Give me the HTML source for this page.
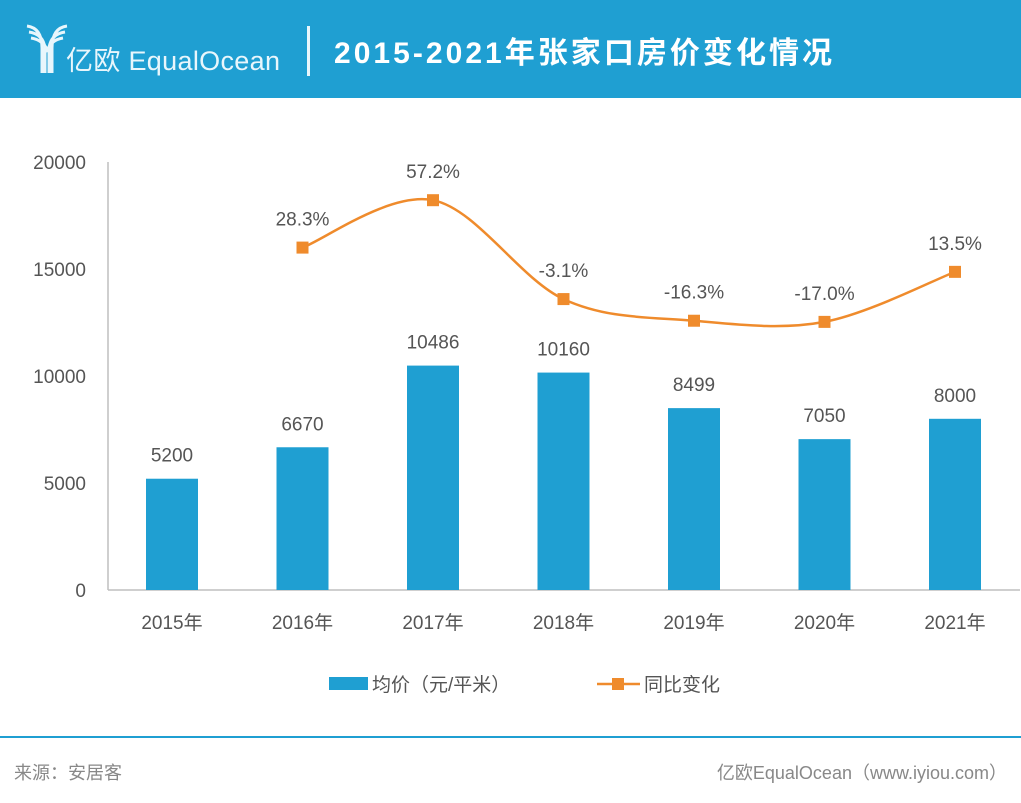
<!DOCTYPE html>
<html><head><meta charset="utf-8"><style>
body{margin:0;width:1021px;height:803px;background:#fff;position:relative;overflow:hidden;font-family:"Liberation Sans","Noto Sans CJK SC",sans-serif}
.hdr{position:absolute;left:0;top:0;width:1021px;height:98px;background:#1f9fd2}
</style></head><body>
<div class="hdr">
<svg width="1021" height="98">
<g fill="none" stroke="#e8f6fc" stroke-width="3">
<path d="M27 26 Q42 28 42 48 L42 73"/><path d="M29 32 Q43 34 45 48 L45 73"/><path d="M31 38 Q44 40 48 52"/>
<path d="M67 26 Q52 28 52 48 L52 73"/><path d="M65 32 Q51 34 49 48 L49 73"/><path d="M63 38 Q50 40 47 52"/>
</g>
<text x="66" y="70" fill="#e8f6fc" font-size="27" textLength="214" font-family="Liberation Sans,Noto Sans CJK SC,sans-serif">亿欧 EqualOcean</text>
<rect x="307" y="26" width="3" height="50" fill="#e8f6fc"/>
<text x="334" y="63" fill="#fff" font-size="30" font-weight="bold" textLength="498" font-family="Liberation Sans,Noto Sans CJK SC,sans-serif">2015-2021年张家口房价变化情况</text>
</svg></div>
<svg id="c" width="1021" height="803" style="position:absolute;left:0;top:0"></svg>
<div style="position:absolute;left:0;top:736px;width:1021px;height:2px;background:#1f9fd2"></div>
<div style="position:absolute;left:14px;top:759px;font-size:18px;color:#888">来源：安居客</div>
<div style="position:absolute;right:14px;top:759px;font-size:18px;color:#888">亿欧EqualOcean（www.iyiou.com）</div>
<script>
const categories=["2015年","2016年","2017年","2018年","2019年","2020年","2021年"];
const prices=[5200,6670,10486,10160,8499,7050,8000];
const yoy=[null,28.3,57.2,-3.1,-16.3,-17.0,13.5];
const yTicks=[0,5000,10000,15000,20000];
const svg=document.getElementById('c');const NS='http://www.w3.org/2000/svg';
function el(t,a,txt){const e=document.createElementNS(NS,t);for(const k in a)e.setAttribute(k,a[k]);if(txt!=null)e.textContent=txt;svg.appendChild(e);return e;}
const y=v=>590-v*(428/20000);
const x=i=>172+i*130.5;
const y2=v=>294-v*1.64;
const F='Liberation Sans,Noto Sans CJK SC,sans-serif';
const TC='#555';
yTicks.forEach(t=>{const e=el('text',{x:86,y:y(t)+7,'text-anchor':'end','font-size':19,fill:TC,'font-family':F},t);
});
const ax=el('line',{x1:108,y1:162,x2:108,y2:590,stroke:'#bfbfbf','stroke-width':1.5});

const bx=el('line',{x1:108,y1:590,x2:1020,y2:590,stroke:'#bfbfbf','stroke-width':1.5});

categories.forEach((c,i)=>{
const r=el('rect',{x:x(i)-26,y:y(prices[i]),width:52,height:590-y(prices[i]),fill:'#1f9fd2'});

const l=el('text',{x:x(i),y:y(prices[i])-17,'text-anchor':'middle','font-size':19,fill:TC,'font-family':F},prices[i]);

const t=el('text',{x:x(i),y:629,'text-anchor':'middle','font-size':19,fill:TC,'font-family':F},c);

});
const pts=[];yoy.forEach((v,i)=>{if(v!=null)pts.push([x(i),y2(v)]);});
let d='M'+pts[0][0]+' '+pts[0][1];
for(let i=0;i<pts.length-1;i++){const p0=pts[Math.max(0,i-1)],p1=pts[i],p2=pts[i+1],p3=pts[Math.min(pts.length-1,i+2)];
const c1=[p1[0]+(p2[0]-p0[0])/6,p1[1]+(p2[1]-p0[1])/6],c2=[p2[0]-(p3[0]-p1[0])/6,p2[1]-(p3[1]-p1[1])/6];
d+=` C${c1[0]} ${c1[1]} ${c2[0]} ${c2[1]} ${p2[0]} ${p2[1]}`;}
const ln=el('path',{d:d,fill:'none',stroke:'#ef8b2c','stroke-width':2.5});

yoy.forEach((v,i)=>{if(v==null)return;
const m=el('rect',{x:x(i)-6,y:y2(v)-6,width:12,height:12,fill:'#ef8b2c'});

const l=el('text',{x:x(i),y:y2(v)-22,'text-anchor':'middle','font-size':19,fill:TC,'font-family':F},v.toFixed(1)+'%');
});
const lb=el('rect',{x:329,y:677,width:39,height:13,fill:'#1f9fd2'});

const lt=el('text',{x:372,y:691,'font-size':19,fill:TC,'font-family':F},'均价（元/平米）');

const ll=el('line',{x1:597,y1:684,x2:640,y2:684,stroke:'#ef8b2c','stroke-width':2.5});

const lm=el('rect',{x:612,y:678,width:12,height:12,fill:'#ef8b2c'});

const lt2=el('text',{x:644,y:691,'font-size':19,fill:TC,'font-family':F},'同比变化');

</script></body></html>
